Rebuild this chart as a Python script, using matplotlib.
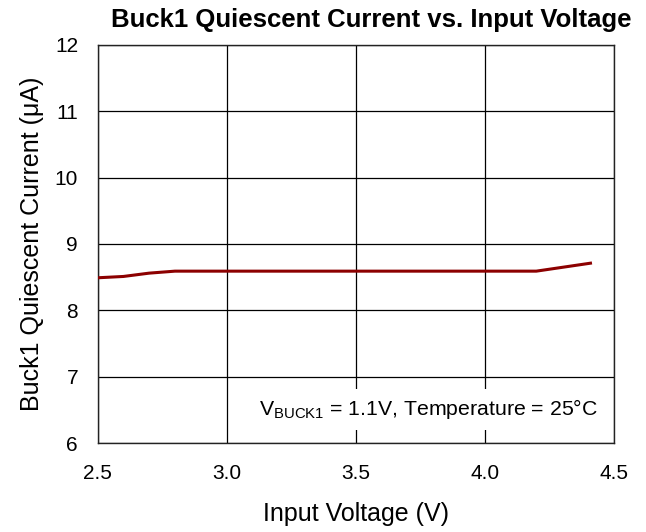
import numpy as np
import matplotlib.pyplot as plt

plt.rcParams['font.family'] = ['Liberation Sans', 'DejaVu Sans']
plt.rcParams['mathtext.fontset'] = 'custom'
plt.rcParams['mathtext.rm'] = 'Liberation Sans'

# Input voltage (V) vs quiescent current (uA)
vin = [2.5, 2.6, 2.7, 2.8, 3.0, 3.5, 4.0, 4.2, 4.41]
iq = [8.49, 8.51, 8.56, 8.59, 8.59, 8.59, 8.59, 8.59, 8.71]

xticks = [2.5, 3.0, 3.5, 4.0, 4.5]
yticks = [6, 7, 8, 9, 10, 11, 12]

fig = plt.figure(figsize=(6.46, 5.32), dpi=100)
ax = fig.add_axes([0.151, 0.167, 0.799, 0.749])

ax.plot(vin, iq, color='#8c0000', linewidth=2.2, zorder=3)

ax.set_xlim(2.5, 4.5)
ax.set_ylim(6, 12)
ax.set_xticks(xticks)
ax.set_xticklabels([f"{v:.1f}" for v in xticks])
ax.set_yticks(yticks)
ax.grid(True, color='black', linewidth=0.9)
ax.tick_params(length=0, labelsize=15)
ax.tick_params(axis='y', pad=14)
ax.tick_params(axis='x', pad=15)
for s in ax.spines.values():
    s.set_color('#222222')
    s.set_linewidth(1.0)

ax.set_title("Buck1 Quiescent Current vs. Input Voltage", fontsize=18.5,
             fontweight='bold', pad=13, x=0.53)
ax.set_xlabel("Input Voltage (V)", fontsize=18, labelpad=14)
ax.set_ylabel("Buck1 Quiescent Current (μA)", fontsize=18, labelpad=8)

ax.text(0.97, 0.085, r"V$_{\mathrm{BUCK1}}$ = 1.1V, Temperature = 25°C",
        transform=ax.transAxes, ha='right', va='center', fontsize=15.3,
        bbox=dict(facecolor='white', edgecolor='none', pad=6), zorder=4)

fig.savefig("out.png", dpi=100)
